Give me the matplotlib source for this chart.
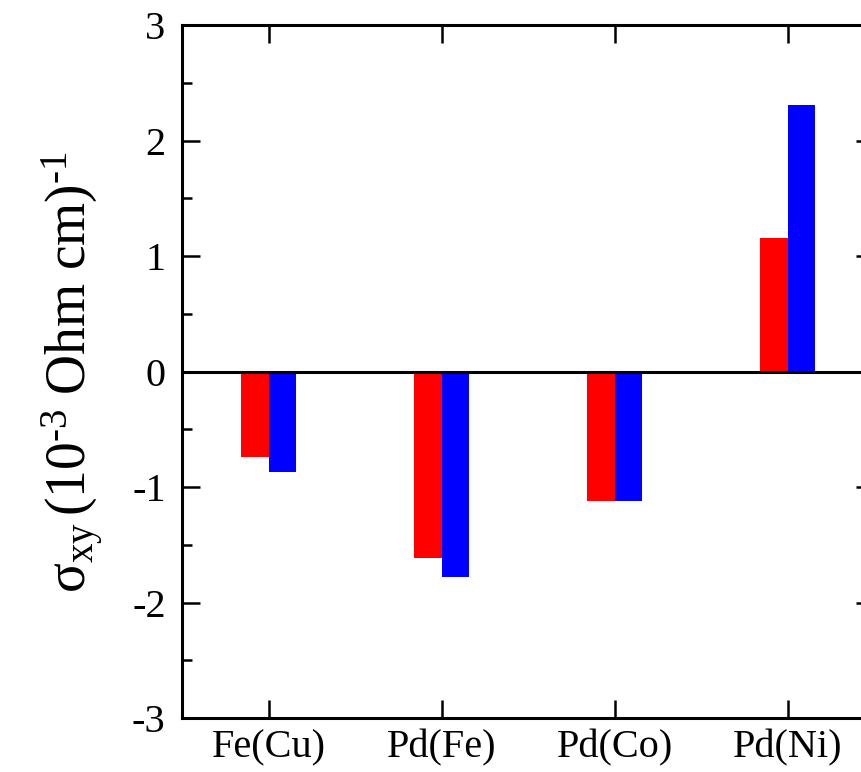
import numpy as np
import matplotlib
matplotlib.use("Agg")
from matplotlib import pyplot as plt
from matplotlib.ticker import MultipleLocator

plt.rcParams['font.family'] = ['Liberation Serif', 'DejaVu Serif']
plt.rcParams['mathtext.fontset'] = 'custom'
plt.rcParams['mathtext.rm'] = 'Liberation Serif'
plt.rcParams['mathtext.it'] = 'Liberation Serif:italic'
plt.rcParams['axes.unicode_minus'] = False

# Hall conductivity for each alloy, two calculations
alloys = ['Fe(Cu)', 'Pd(Fe)', 'Pd(Co)', 'Pd(Ni)']
sigma_red = [-0.74, -1.61, -1.12, 1.16]
sigma_blue = [-0.865, -1.78, -1.12, 2.31]

x = np.arange(len(alloys))
w = 0.16

fig = plt.figure(figsize=(8.62, 7.72), dpi=100)
ax = fig.add_axes([0.2115, 0.0696, 0.8025, 0.898])

ax.bar(x - w / 2, sigma_red, width=w, color='#ff0000', linewidth=0)
ax.bar(x + w / 2, sigma_blue, width=w, color='#0000ff', linewidth=0)
ax.axhline(0, color='black', lw=2.2, zorder=3)

ax.set_xlim(-0.5, 3.5)
ax.set_ylim(-3, 3)
ax.set_xticks(x)
ax.set_xticklabels(alloys)
ax.yaxis.set_major_locator(MultipleLocator(1))
ax.yaxis.set_minor_locator(MultipleLocator(0.5))

ax.tick_params(axis='both', which='both', direction='in',
               top=True, right=True, width=1.8, labelsize=29)
ax.tick_params(axis='both', which='major', length=13)
ax.tick_params(axis='y', which='minor', length=7)
ax.tick_params(axis='y', pad=12)
ax.tick_params(axis='x', pad=8)

for s in ax.spines.values():
    s.set_linewidth(2.2)

ax.set_ylabel('$\\mathrm{\u03c3_{xy}\\,(10^{\u20103}\\ Ohm\\ cm)^{\u20101}}$',
              fontsize=40, labelpad=19)

fig.savefig('out.png', dpi=100)
